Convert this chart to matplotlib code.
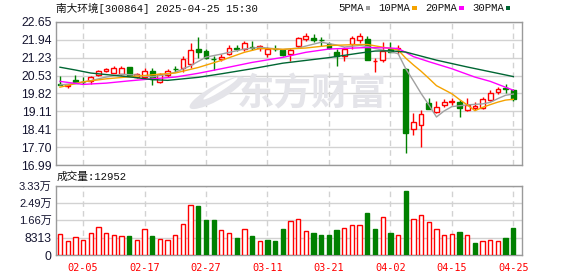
"""
南大环境 日K线 + 成交量 (东方财富风格)。
"""

import matplotlib

matplotlib.use("Agg")

import matplotlib.pyplot as plt
import numpy as np
from matplotlib.patches import Ellipse

# ---------------------------------------------------------------- 数据
dates = [
    "01-23", "01-24", "01-27", "02-05", "02-06", "02-07", "02-10", "02-11",
    "02-12", "02-13", "02-14", "02-17", "02-18", "02-19", "02-20", "02-21",
    "02-24", "02-25", "02-26", "02-27", "02-28", "03-03", "03-04", "03-05",
    "03-06", "03-07", "03-10", "03-11", "03-12", "03-13", "03-14", "03-17",
    "03-18", "03-19", "03-20", "03-21", "03-24", "03-25", "03-26", "03-27",
    "03-28", "03-31", "04-01", "04-02", "04-03", "04-07", "04-08", "04-09",
    "04-10", "04-11", "04-14", "04-15", "04-16", "04-17", "04-18", "04-21",
    "04-22", "04-23", "04-24", "04-25",
]
shown_dates = ["02-05", "02-17", "02-27", "03-11", "03-21", "04-02", "04-15", "04-25"]

opens = [
    20.20, 20.10, 20.35, 20.29, 20.33, 20.55, 20.70, 20.64, 20.60, 20.86,
    20.48, 20.47, 20.71, 20.26, 20.56, 20.78, 20.81, 21.00, 21.60, 21.49,
    21.20, 21.17, 21.40, 21.64, 21.59, 21.66, 21.62, 21.38, 21.60, 21.53,
    21.37, 21.71, 21.98, 22.03, 21.94, 21.79, 21.47, 21.32, 21.77, 21.94,
    21.96, 21.09, 21.13, 21.57, 21.58, 20.78, 18.40, 18.56, 19.43, 19.07,
    19.35, 19.50, 19.48, 19.15, 19.25, 19.23, 19.58, 19.88, 20.02, 19.97,
]
highs = [
    20.51, 20.20, 20.55, 20.46, 20.51, 20.75, 20.84, 20.90, 20.92, 20.87,
    20.63, 20.83, 20.82, 20.63, 20.79, 20.91, 21.32, 21.80, 22.04, 21.58,
    21.32, 21.40, 21.73, 21.74, 21.90, 21.88, 21.74, 21.68, 21.75, 21.58,
    21.63, 22.07, 22.21, 22.16, 22.06, 21.84, 21.58, 21.66, 22.11, 22.20,
    22.08, 21.21, 21.87, 21.86, 21.74, 20.82, 19.04, 19.17, 19.63, 19.53,
    19.60, 19.65, 19.56, 19.65, 19.50, 19.68, 19.94, 20.08, 20.20, 19.99,
]
lows = [
    20.14, 20.04, 20.22, 20.19, 20.18, 20.50, 20.66, 20.62, 20.55, 20.51,
    20.42, 20.39, 20.14, 20.22, 20.47, 20.67, 20.68, 20.82, 21.21, 21.17,
    20.75, 21.11, 21.36, 21.50, 21.51, 21.54, 21.52, 21.28, 21.50, 21.30,
    21.11, 21.64, 21.90, 21.87, 21.71, 21.58, 20.92, 21.11, 21.58, 21.80,
    21.15, 20.66, 21.05, 21.46, 21.38, 17.48, 18.18, 17.71, 19.21, 19.05,
    19.29, 19.35, 18.89, 19.13, 19.18, 19.21, 19.54, 19.81, 19.84, 19.54,
]
closes = [
    20.15, 20.17, 20.25, 20.27, 20.49, 20.70, 20.78, 20.82, 20.83, 20.53,
    20.58, 20.73, 20.39, 20.58, 20.70, 20.77, 21.19, 21.53, 21.46, 21.24,
    21.17, 21.25, 21.62, 21.58, 21.83, 21.62, 21.70, 21.60, 21.58, 21.34,
    21.56, 22.00, 22.08, 21.93, 21.92, 21.61, 21.32, 21.58, 22.03, 22.08,
    21.16, 21.10, 21.50, 21.48, 21.64, 18.27, 18.69, 19.01, 19.22, 19.27,
    19.47, 19.52, 19.23, 19.36, 19.33, 19.59, 19.84, 20.00, 19.98, 19.60,
]
# 图中首根K线前一日收盘 (用于成交量颜色)
close_before_first = 20.10

volumes = [
    9920, 6720, 8480, 7200, 10400, 13280, 10400, 9440, 8960, 9120,
    7200, 12320, 9120, 7520, 7200, 9440, 14880, 24000, 23520, 16800,
    16800, 11840, 10560, 8160, 12320, 9120, 6720, 7200, 6720, 12480,
    16320, 17120, 11360, 10560, 9600, 9600, 12000, 12800, 14240, 14240,
    20160, 12480, 18080, 10560, 9440, 30720, 17120, 19040, 15680, 12320,
    9440, 10080, 11040, 9440, 5760, 6560, 7040, 6560, 8160, 12952,
]

# 均线 (从图上读取的折点: K线序号 + 数值)
ma5_idx = [0, 2, 4, 6, 8, 10, 12, 14, 15, 17, 19, 21, 24, 26, 29, 31, 34,
           36, 37, 39, 40, 41, 42, 43, 44, 45, 46, 47, 48, 49, 50, 51, 53,
           55, 56, 57, 58, 59]
ma5 = [20.16, 20.22, 20.33, 20.47, 20.58, 20.55, 20.48, 20.58, 20.66, 20.92,
       21.26, 21.38, 21.58, 21.65, 21.56, 21.62, 21.85, 21.74, 21.66, 21.72,
       21.68, 21.60, 21.54, 21.47, 21.40, 20.80, 20.32, 19.82, 19.37, 18.89,
       19.13, 19.30, 19.37, 19.41, 19.47, 19.62, 19.75, 19.80]

ma10_idx = [0, 3, 6, 9, 12, 15, 18, 21, 24, 26, 29, 32, 35, 38, 40, 43, 44,
            45, 46, 47, 48, 49, 50, 51, 52, 53, 54, 55, 56, 57, 58, 59]
ma10 = [20.07, 20.28, 20.40, 20.48, 20.56, 20.63, 20.85, 21.13, 21.45, 21.60,
        21.57, 21.62, 21.72, 21.75, 21.76, 21.60, 21.55, 21.22, 20.95, 20.70,
        20.42, 20.13, 19.97, 19.81, 19.58, 19.37, 19.14, 19.27, 19.38, 19.48,
        19.56, 19.59]

ma20_idx = [0, 3, 6, 9, 12, 15, 18, 21, 25, 29, 32, 35, 40, 43, 44, 45, 46,
            48, 51, 54, 56, 59]
ma20 = [20.30, 20.18, 20.23, 20.32, 20.40, 20.47, 20.62, 20.80, 21.05, 21.25,
        21.45, 21.58, 21.64, 21.62, 21.60, 21.45, 21.28, 21.08, 20.80, 20.47,
        20.30, 19.95]

ma30_idx = [0, 2, 4, 6, 9, 12, 14, 16, 18, 21, 25, 29, 35, 39, 41, 43, 45,
            49, 53, 56, 59]
ma30 = [20.86, 20.75, 20.63, 20.57, 20.48, 20.37, 20.34, 20.40, 20.46, 20.60,
        20.80, 21.02, 21.24, 21.42, 21.50, 21.51, 21.46, 21.14, 20.87, 20.68,
        20.49]

price_ticks = ["16.99", "17.70", "18.41", "19.11", "19.82", "20.53", "21.23", "21.94", "22.65"]
vol_ticks = ["0", "8313", "1.66万", "2.49万", "3.33万"]
vol_max = 33252

title_text = "南大环境[300864] 2025-04-25 15:30"
vol_title = "成交量:12952"
legend_names = ["5PMA", "10PMA", "20PMA", "30PMA"]

# ---------------------------------------------------------------- 样式
RED = "#ff0000"
GREEN = "#008000"
MA_COLORS = ["#a0a0a0", "#f5a300", "#ff00ff", "#006633"]
GRID = "#d2d2d2"
SPINE = "#9a9a9a"
WATERMARK = "#e4e4e9"
MONO_CJK = ["Liberation Mono", "Noto Sans CJK SC"]
SANS_CJK = ["Liberation Sans", "Noto Sans CJK SC"]

W, H = 578, 276


def fx(px):
    return px / W


def fy(py):
    return 1 - py / H


def style_axes(ax):
    for sp in ax.spines.values():
        sp.set_color(SPINE)
        sp.set_linewidth(1)
    ax.set_axisbelow(True)
    ax.tick_params(length=0)


def main():
    o = np.array(opens)
    h = np.array(highs)
    l = np.array(lows)
    c = np.array(closes)
    v = np.array(volumes)
    x = np.arange(len(c))

    fig = plt.figure(figsize=(W / 100, H / 100), dpi=100)
    fig.patch.set_facecolor("white")

    ax = fig.add_axes([fx(56), fy(165), fx(466), 143 / H])
    vax = fig.add_axes([fx(56), fy(255), fx(466), 69.5 / H])

    xlim = (-0.52, len(c) + 0.13)
    tick_pos = [dates.index(d) for d in shown_dates]

    # ---- K线
    style_axes(ax)
    ax.set_xlim(*xlim)
    ax.set_ylim(float(price_ticks[0]), float(price_ticks[-1]))
    ypos = np.linspace(float(price_ticks[0]), float(price_ticks[-1]), len(price_ticks))
    ax.set_yticks(ypos)
    ax.set_yticklabels(price_ticks, family=SANS_CJK, fontsize=8.8, color="#151530")
    ax.tick_params(axis="y", pad=3)
    ax.set_xticks(tick_pos)
    ax.set_xticklabels([])
    ax.grid(True, axis="y", color=GRID, lw=1)
    ax.grid(True, axis="x", color=GRID, lw=1, ls=(0, (4, 3)))

    # 水印
    ax.text(0.548, 0.50, "东方财富", transform=ax.transAxes, ha="center", va="center",
            fontsize=27, fontweight="bold", family=["Noto Sans CJK SC"],
            color=WATERMARK, zorder=0.6)
    ax.add_patch(Ellipse((0.345, 0.505), 0.055, 0.25, angle=-25, transform=ax.transAxes,
                         facecolor=WATERMARK, edgecolor="none", zorder=0.6))
    ax.add_patch(Ellipse((0.353, 0.535), 0.018, 0.17, angle=-25, transform=ax.transAxes,
                         facecolor="white", edgecolor="none", zorder=0.65))

    up = c >= o
    colors = np.where(up, RED, GREEN)
    ax.vlines(x, l, h, colors=colors, lw=1, zorder=2)
    body = np.maximum(np.abs(c - o), 0.004)
    ax.bar(x, body, bottom=np.minimum(o, c), width=0.62,
           facecolor=np.where(up, "white", GREEN), edgecolor=colors, lw=1, zorder=3)

    for idx, vals, col in zip([ma5_idx, ma10_idx, ma20_idx, ma30_idx],
                              [ma5, ma10, ma20, ma30], MA_COLORS):
        ax.plot(idx, vals, color=col, lw=1, zorder=4)

    # ---- 成交量
    style_axes(vax)
    vax.set_xlim(*xlim)
    vax.set_ylim(0, vol_max)
    vax.set_yticks(np.linspace(0, vol_max, len(vol_ticks)))
    vax.set_yticklabels(vol_ticks, family=SANS_CJK, fontsize=8.8, color="#151530")
    for lab in vax.get_yticklabels():
        if "万" in lab.get_text():
            lab.set_fontsize(8.0)
    vax.tick_params(axis="y", pad=3)
    vax.set_xticks(tick_pos)
    vax.set_xticklabels(shown_dates, family=["DejaVu Sans Mono"], fontsize=7.4, color=RED)
    vax.tick_params(axis="x", pad=6)
    vax.grid(True, axis="y", color=GRID, lw=1)
    vax.grid(True, axis="x", color=GRID, lw=1, ls=(0, (4, 3)))

    prev = np.concatenate([[close_before_first], c[:-1]])
    vup = c >= prev
    vcol = np.where(vup, RED, GREEN)
    vax.bar(x, v, width=0.56, facecolor=np.where(vup, "white", GREEN),
            edgecolor=vcol, lw=1, zorder=3)

    # ---- 文字
    fig.text(fx(56), fy(8), title_text, family=MONO_CJK, fontsize=7.7,
             color="#111111", va="center", ha="left")
    fig.text(fx(57), fy(176.5), vol_title, family=MONO_CJK, fontsize=7.7,
             color="#111111", va="center", ha="left")

    lx = 338
    char_w = 6.15
    for name, col in zip(legend_names, MA_COLORS):
        fig.text(fx(lx), fy(8), name, family=MONO_CJK, fontsize=7.7,
                 color="#111111", va="center", ha="left")
        sx = lx + len(name) * char_w + 3
        fig.patches.append(plt.Rectangle((fx(sx), fy(10)), fx(4.5), 3.5 / H,
                                         transform=fig.transFigure, figure=fig,
                                         facecolor=col, edgecolor="none"))
        lx = sx + 4.5 + 8.5

    fig.savefig("out.png", dpi=100)
    plt.close(fig)


if __name__ == "__main__":
    main()
